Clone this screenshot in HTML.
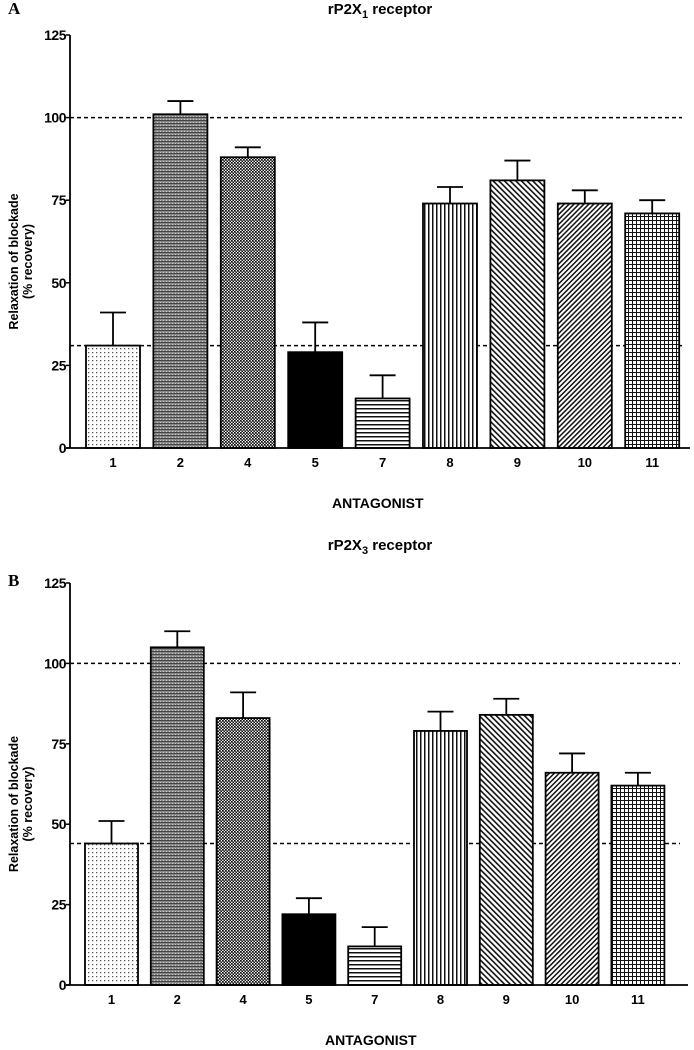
<!DOCTYPE html>
<html><head><meta charset="utf-8"><style>
body{margin:0;background:#fff;}
svg{display:block;font-family:"Liberation Sans",Arial,sans-serif;}
</style></head><body>
<svg width="694" height="1050" viewBox="0 0 694 1050">
<defs>
<pattern id="p1" width="4" height="4" patternUnits="userSpaceOnUse"><rect width="4" height="4" fill="#fff"/><rect width="1.3" height="1.3" fill="#555"/></pattern>
<pattern id="p2" width="3" height="3" patternUnits="userSpaceOnUse"><rect width="3" height="3" fill="#888"/><rect width="3" height="1" fill="#444"/><rect x="1" y="2" width="1" height="1" fill="#ccc"/></pattern>
<pattern id="p4" width="3" height="3" patternUnits="userSpaceOnUse"><rect width="3" height="3" fill="#eee"/><rect width="1.7" height="1.7" fill="#111"/><rect x="1.5" y="1.5" width="1.7" height="1.7" fill="#111"/></pattern>
<pattern id="p5" width="4" height="4" patternUnits="userSpaceOnUse"><rect width="4" height="4" fill="#000"/></pattern>
<pattern id="p7" width="4" height="4" patternUnits="userSpaceOnUse"><rect width="4" height="4" fill="#fff"/><rect width="4" height="1.5" fill="#111"/></pattern>
<pattern id="p8" width="4" height="4" patternUnits="userSpaceOnUse"><rect width="4" height="4" fill="#fff"/><rect width="1.5" height="4" fill="#111"/></pattern>
<pattern id="p9" width="4" height="4" patternUnits="userSpaceOnUse" patternTransform="rotate(-45)"><rect width="4" height="4" fill="#fff"/><rect width="1.6" height="4" fill="#111"/></pattern>
<pattern id="p10" width="3.5" height="3.5" patternUnits="userSpaceOnUse" patternTransform="rotate(45)"><rect width="3.5" height="3.5" fill="#fff"/><rect width="1.5" height="3.5" fill="#111"/></pattern>
<pattern id="p11" width="4" height="4" patternUnits="userSpaceOnUse"><rect width="4" height="4" fill="#fff"/><rect width="4" height="1" fill="#111"/><rect width="1" height="4" fill="#111"/></pattern>
</defs>
<g id="chartA"></g>
<g id="chartB"></g>
</svg>
<script>
const categories = ["1","2","4","5","7","8","9","10","11"];
const valuesA = [31,101,88,29,15,74,81,74,71];
const errorsA = [10,4,3,9,7,5,6,4,4];
const valuesB = [44,105,83,22,12,79,84,66,62];
const errorsB = [7,5,8,5,6,6,5,6,4];
const yTicks = [0,25,50,75,100,125];
const refLinesA = [100,31];
const refLinesB = [100,44];
const patterns = ["p1","p2","p4","p5","p7","p8","p9","p10","p11"];
const NS="http://www.w3.org/2000/svg";
function mk(parent,tag,attrs,text){const e=document.createElementNS(NS,tag);for(const k in attrs)e.setAttribute(k,attrs[k]);if(text!==undefined)e.textContent=text;parent.appendChild(e);return e;}
function draw(g,cfg,vals,errs,refs){
  const y=v=>cfg.y0-(v/125)*(cfg.y0-cfg.y125);
  const bx=i=>cfg.bx0+i*cfg.pitch;
  let t=mk(g,'text',{x:8,y:cfg.letterY,'font-family':'Liberation Serif,serif','font-weight':'bold','font-size':17},cfg.letter);
  
  
  let title=mk(g,'text',{x:380,y:cfg.titleY,'text-anchor':'middle','font-weight':'bold','font-size':15});
  
  
  mk(title,'tspan',{},'rP2X');
  mk(title,'tspan',{'font-size':11,dy:4},cfg.sub);
  mk(title,'tspan',{dy:-4},' receptor');
  refs.forEach(r=>{const l=mk(g,'line',{x1:cfg.ax,x2:cfg.xEnd,y1:y(r),y2:y(r),stroke:'#000','stroke-width':1.5,'stroke-dasharray':'4,3'});
    
    });
  vals.forEach((v,i)=>{
    const x=bx(i),cx=x+cfg.bw/2;
    const e=mk(g,'line',{x1:cx,x2:cx,y1:y(v),y2:y(v+errs[i]),stroke:'#000','stroke-width':1.8});
    
    
    const c=mk(g,'line',{x1:cx-13,x2:cx+13,y1:y(v+errs[i]),y2:y(v+errs[i]),stroke:'#000','stroke-width':1.8});
    
    
    const r=mk(g,'rect',{x:x,y:y(v),width:cfg.bw,height:y(0)-y(v),fill:'url(#'+patterns[i]+')',stroke:'#000','stroke-width':1.8});
    
    
    const lb=mk(g,'text',{x:cx,y:cfg.y0+19,'text-anchor':'middle','font-weight':'bold','font-size':13},categories[i]);
    
    
  });
  const ya=mk(g,'line',{x1:cfg.ax,x2:cfg.ax,y1:y(125),y2:y(0),stroke:'#000','stroke-width':1.8});
  
  
  const xa=mk(g,'line',{x1:cfg.ax-4,x2:cfg.xEnd+8,y1:y(0),y2:y(0),stroke:'#000','stroke-width':1.8});
  
  
  yTicks.forEach(v=>{
    mk(g,'line',{x1:cfg.ax-4,x2:cfg.ax,y1:y(v),y2:y(v),stroke:'#000','stroke-width':1.5});
    const tl=mk(g,'text',{x:cfg.ax-4,y:y(v)+5,'text-anchor':'end','font-weight':'bold','font-size':14,'letter-spacing':'-0.5'},String(v));
    
    
  });
  const yt=mk(g,'text',{transform:`translate(18,${(y(0)+y(125))/2+20}) rotate(-90)`,'text-anchor':'middle','font-weight':'bold','font-size':12.5});
  
  
  mk(yt,'tspan',{x:0,dy:0},'Relaxation of blockade');
  mk(yt,'tspan',{x:0,dy:14},'(% recovery)');
  const xt=mk(g,'text',{x:cfg.xtX,y:cfg.xtY,'font-weight':'bold','font-size':14},'ANTAGONIST');
  
  
}
draw(document.getElementById('chartA'),{letter:'A',letterY:14,titleY:14,sub:'1',ax:70,xEnd:682,y0:448,y125:35,bx0:86,pitch:67.4,bw:54,xtX:332,xtY:508},valuesA,errorsA,refLinesA);
draw(document.getElementById('chartB'),{letter:'B',letterY:586,titleY:550,sub:'3',ax:70,xEnd:680,y0:985,y125:583,bx0:85,pitch:65.8,bw:53,xtX:325,xtY:1045},valuesB,errorsB,refLinesB);
</script>
</body></html>
